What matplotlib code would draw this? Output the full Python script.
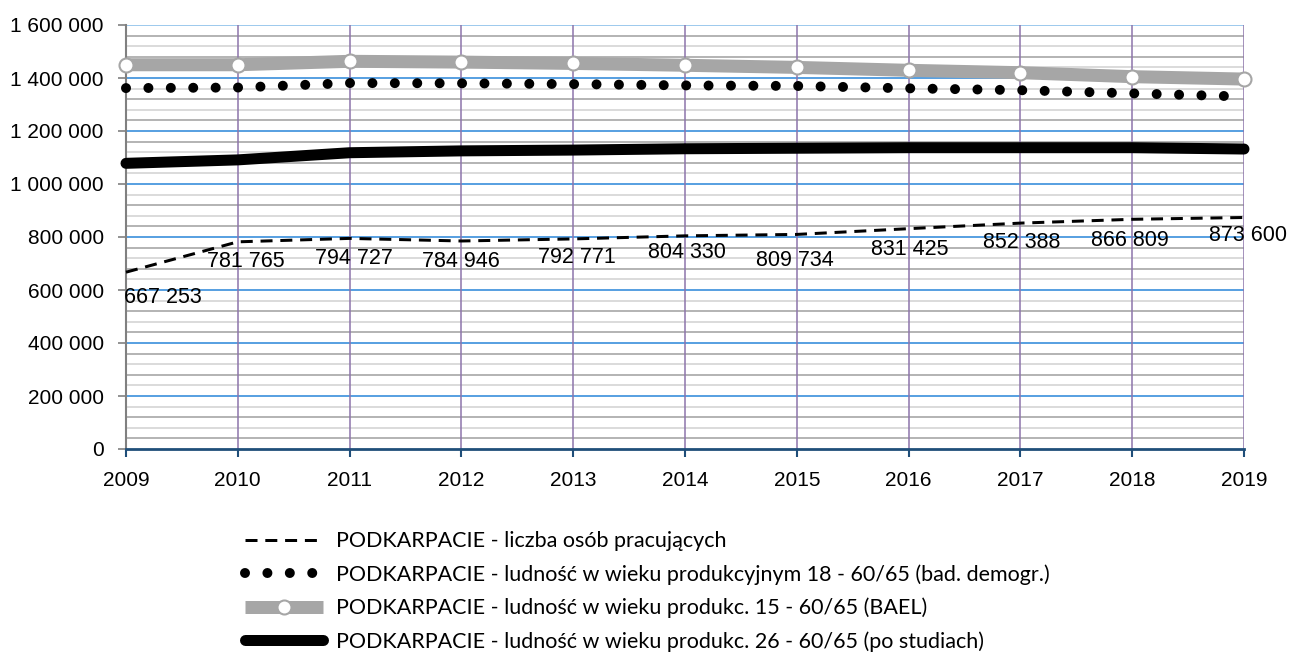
import numpy as np
import matplotlib
matplotlib.use("Agg")
import matplotlib.pyplot as plt
from matplotlib.ticker import FuncFormatter, MultipleLocator

years = [2009, 2010, 2011, 2012, 2013, 2014, 2015, 2016, 2017, 2018, 2019]

pracujacy = [667253, 781765, 794727, 784946, 792771, 804330, 809734,
             831425, 852388, 866809, 873600]
demogr = [1362000, 1364000, 1381000, 1380000, 1377000, 1372000, 1370000,
          1361000, 1354000, 1342000, 1330000]
bael = [1450000, 1450000, 1463000, 1460000, 1455000, 1448000, 1440000,
        1429000, 1420000, 1405000, 1396000]
po_studiach = [1078000, 1091000, 1118000, 1125000, 1128000, 1133000, 1135000,
               1137000, 1137000, 1137000, 1132000]

legend_labels = [
    "PODKARPACIE - liczba osób pracujących",
    "PODKARPACIE - ludność w wieku produkcyjnym 18 - 60/65 (bad. demogr.)",
    "PODKARPACIE - ludność w wieku produkc. 15 - 60/65 (BAEL)",
    "PODKARPACIE - ludność w wieku produkc. 26 - 60/65 (po studiach)",
]

# label offsets in pixels (dx, dy), screen coords
label_off = [(37, -25), (8, -20), (4, -20), (-1, -21), (4, -19), (2, -17),
             (-2, -26), (1, -21), (1, -19), (-2, -21), (4, -18)]

plt.rcParams['font.family'] = ['Liberation Sans', 'DejaVu Sans']

fig = plt.figure(figsize=(12.91, 6.53), dpi=100)
ax = fig.add_axes([126/1291, 1-449/653, (1244-126)/1291, (449-25)/653])

ax.set_xlim(2009, 2019)
ax.set_ylim(0, 1600000)

# grid
for y in np.arange(40000, 1600000, 40000):
    if y % 200000 == 0:
        continue
    col = "#b3b3b3" if (y // 40000) % 2 == 1 else "#dadada"
    ax.axhline(y, color=col, lw=1.4, zorder=0)
for y in range(200000, 1600001, 200000):
    ax.axhline(y, color="#3a8fdc" if y < 1600000 else "#8cc0ea", lw=1.2, zorder=1)
for x in years[1:]:
    ax.axvline(x, color="#8d74ab", lw=1.1, zorder=1)

# series
px = 72 / 100
ax.plot(years, pracujacy, color="black", lw=3*px, dashes=(4, 2.6),
        zorder=5, clip_on=False, label=legend_labels[0])
ax.plot(years, demogr, color="black", lw=10*px, dashes=(0.001, 2.24),
        dash_capstyle="round", zorder=5, clip_on=False, label=legend_labels[1])
ax.plot(years, bael, color="#a6a6a6", lw=13*px, marker="o", ms=10*px*1.4,
        mfc="white", mec="#a6a6a6", mew=1.5, solid_capstyle="butt",
        zorder=4, clip_on=False, label=legend_labels[2])
ax.plot(years, po_studiach, color="black", lw=11*px, solid_capstyle="round",
        zorder=4, clip_on=False, label=legend_labels[3])

for x, v, (dx, dy) in zip(years, pracujacy, label_off):
    ax.annotate(f"{v:,}".replace(",", " "), (x, v), xytext=(dx*px, dy*px),
                textcoords="offset points", ha="center", va="center",
                fontsize=15.5, color="black", zorder=6, annotation_clip=False)

# axes styling
ax.yaxis.set_major_locator(MultipleLocator(200000))
ax.yaxis.set_major_formatter(FuncFormatter(lambda v, p: f"{int(v):,}".replace(",", " ")))
ax.set_xticks(years)
ax.tick_params(axis="y", length=6, width=1.2, color="#808080", pad=10, labelsize=15)
ax.tick_params(axis="x", length=6, width=1.5, color="#1f4e79", pad=10, labelsize=15)
for s in ["top", "right"]:
    ax.spines[s].set_visible(False)
ax.spines["left"].set_color("#808080")
ax.spines["left"].set_linewidth(1.5)
ax.spines["bottom"].set_color("#1f4e79")
ax.spines["bottom"].set_linewidth(2)
ax.spines["bottom"].set_zorder(3)

leg = fig.legend(loc="upper left", bbox_to_anchor=(226/1291, 1-512/653),
                 frameon=False, numpoints=1, handlelength=3.6,
                 handletextpad=0.6, labelspacing=0.6,
                 prop={"family": ["Lato", "DejaVu Sans"], "size": 15.5})

fig.savefig("out.png", dpi=100)
